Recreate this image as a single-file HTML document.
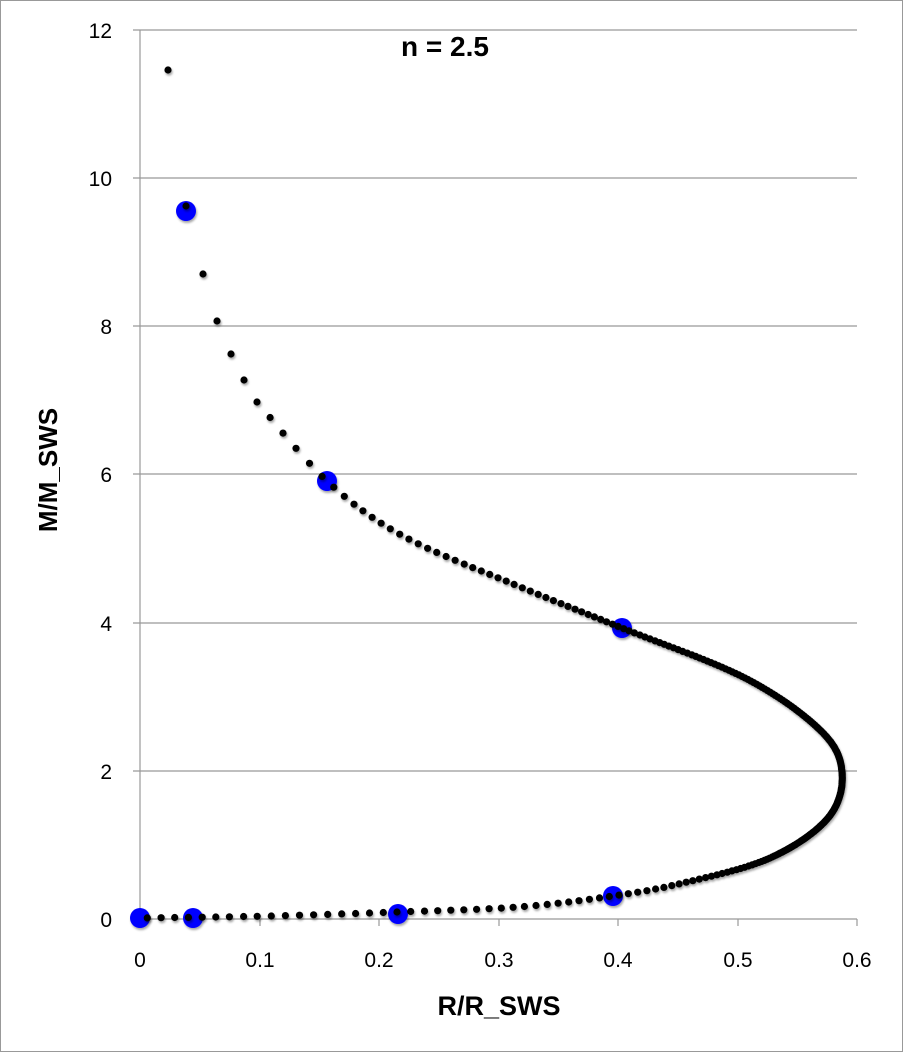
<!DOCTYPE html>
<html><head><meta charset="utf-8"><style>
html,body{margin:0;padding:0;background:#fff}
svg{display:block}
text{font-family:"Liberation Sans",sans-serif;fill:#000}
</style></head><body>
<svg id="s" width="903" height="1052" viewBox="0 0 903 1052" xmlns="http://www.w3.org/2000/svg">
<defs>
<filter id="sh" x="-50%" y="-50%" width="200%" height="200%"><feDropShadow dx="1" dy="2" stdDeviation="1" flood-color="#000" flood-opacity="0.35"/></filter>
</defs>
<rect x="0.5" y="0.5" width="902" height="1051" fill="#fff" stroke="#999"/>
<g stroke="#999" stroke-width="1.2">
<line x1="133" y1="30" x2="857" y2="30"/>
<line x1="133" y1="178" x2="857" y2="178"/>
<line x1="133" y1="326" x2="857" y2="326"/>
<line x1="133" y1="474" x2="857" y2="474"/>
<line x1="133" y1="623" x2="857" y2="623"/>
<line x1="133" y1="771" x2="857" y2="771"/>
<line x1="133" y1="919" x2="857" y2="919"/>
<line x1="140" y1="30" x2="140" y2="919"/>
<line x1="260" y1="919" x2="260" y2="926"/>
<line x1="379" y1="919" x2="379" y2="926"/>
<line x1="499" y1="919" x2="499" y2="926"/>
<line x1="618" y1="919" x2="618" y2="926"/>
<line x1="738" y1="919" x2="738" y2="926"/>
<line x1="857" y1="919" x2="857" y2="926"/>
</g>
<g font-size="21" text-anchor="end">
<text x="112" y="38">12</text><text x="112" y="186">10</text><text x="112" y="334">8</text>
<text x="112" y="482">6</text><text x="112" y="631">4</text><text x="112" y="779">2</text><text x="112" y="927">0</text>
</g>
<g font-size="21" text-anchor="middle">
<text x="140" y="967">0</text><text x="260" y="967">0.1</text><text x="379" y="967">0.2</text>
<text x="499" y="967">0.3</text><text x="618" y="967">0.4</text><text x="738" y="967">0.5</text><text x="857" y="967">0.6</text>
</g>
<text x="499" y="1015" font-size="27" font-weight="bold" text-anchor="middle">R/R_SWS</text>
<text transform="translate(57,470) rotate(-90)" font-size="26" font-weight="bold" text-anchor="middle">M/M_SWS</text>
<text x="445" y="56" font-size="28" font-weight="bold" text-anchor="middle">n = 2.5</text>
<g id="blue" fill="#0000ff" filter="url(#sh)">
<circle cx="140" cy="918" r="10"/><circle cx="193" cy="918" r="10"/><circle cx="398" cy="914" r="10"/>
<circle cx="613" cy="896" r="10"/><circle cx="622" cy="628" r="10"/><circle cx="327" cy="481" r="10"/><circle cx="186" cy="211" r="10"/>
</g>
<g id="dots" fill="#000" filter="url(#sh)"></g>
</svg>
<script>
(function(){
var P=[[257,402],[327,481],[403,536],[518,586],[622,628],[745,678],[820,730],[842,772],[828,818],[770,858],[683,883],[613,896],[518,907],[397,912],[270,916],[140,918]];
var pts=[];
function cr(p0,p1,p2,p3,t){var t2=t*t,t3=t2*t;return [0.5*(2*p1[0]+(-p0[0]+p2[0])*t+(2*p0[0]-5*p1[0]+4*p2[0]-p3[0])*t2+(-p0[0]+3*p1[0]-3*p2[0]+p3[0])*t3),0.5*(2*p1[1]+(-p0[1]+p2[1])*t+(2*p0[1]-5*p1[1]+4*p2[1]-p3[1])*t2+(-p0[1]+3*p1[1]-3*p2[1]+p3[1])*t3)];}
var noseIdx=0;
for(var i=0;i<P.length-1;i++){var p0=P[Math.max(0,i-1)],p1=P[i],p2=P[i+1],p3=P[Math.min(P.length-1,i+2)];
 if(i==7)noseIdx=pts.length;
 for(var k=0;k<200;k++)pts.push(cr(p0,p1,p2,p3,k/200));}
pts.push(P[P.length-1]);
var L=[0];for(var i=1;i<pts.length;i++){L.push(L[i-1]+Math.hypot(pts[i][0]-pts[i-1][0],pts[i][1]-pts[i-1][1]));}
var Ln=L[noseIdx];
function lerp(a,b,t){return a+(b-a)*Math.max(0,Math.min(1,t));}
function sp(l){var d=l-Ln;
 if(d<0){d=-d;
  if(d<100)return lerp(1.5,2.5,d/100);if(d<250)return lerp(2.5,5,(d-100)/150);if(d<360)return lerp(5,8,(d-250)/110);if(d<570)return lerp(8,11,(d-360)/210);return lerp(11,20,(d-570)/80);}
 if(d<100)return 1.5;if(d<245)return lerp(1.5,9,(d-100)/145);if(d<460)return lerp(9,13,(d-245)/215);return 13.5;}
var g=document.getElementById('dots');var out=[[168,70],[186,206],[203,274],[217,321],[231,354],[244,380]];
var next=0,j=0;
while(j<pts.length){ if(L[j]>=next){out.push(pts[j]);next=L[j]+sp(L[j]);} j++;}
var h='';out.forEach(function(p){h+='<circle cx="'+p[0].toFixed(1)+'" cy="'+p[1].toFixed(1)+'" r="3.6"/>';});
g.innerHTML=h;
})();
</script>
</body></html>
